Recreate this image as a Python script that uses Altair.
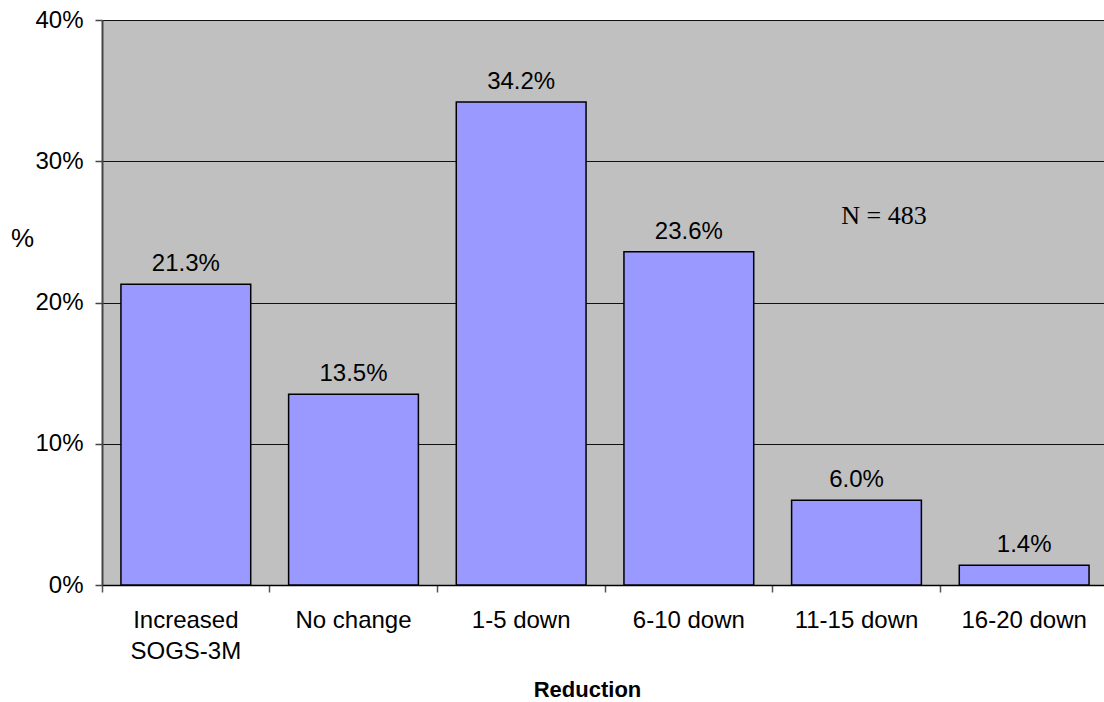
import altair as alt
import pandas as pd

categories = ["Increased SOGS-3M", "No change", "1-5 down", "6-10 down", "11-15 down", "16-20 down"]
values = [21.3, 13.5, 34.2, 23.6, 6.0, 1.4]
labels = ["21.3%", "13.5%", "34.2%", "23.6%", "6.0%", "1.4%"]
y_ticks = [0, 10, 20, 30, 40]

df = pd.DataFrame({"cat": categories, "val": values, "lab": labels})

FONT = "Liberation Sans"

x_enc = alt.X(
    "cat:N",
    sort=categories,
    scale=alt.Scale(paddingInner=0, paddingOuter=0, range=[0, 1006]),
    axis=alt.Axis(
        title="Reduction",
        titleFont=FONT, titleFontSize=22, titleFontWeight="bold", titleColor="black",
        titleX=485, titleY=104, titleAnchor="start", titleAlign="center", titleBaseline="middle",
        labelFont=FONT, labelFontSize=24, labelColor="black", labelAngle=0,
        labelBaseline="top", labelPadding=16, labelLineHeight=31,
        labelExpr="datum.label == 'Increased SOGS-3M' ? ['Increased', 'SOGS-3M'] : datum.label",
        bandPosition=0, tickSize=7, tickColor="#555555", tickWidth=1.5,
        domainColor="black", domainWidth=1.5, grid=False,
    ),
)

y_enc = alt.Y(
    "val:Q",
    scale=alt.Scale(domain=[0, 40], nice=False),
    axis=alt.Axis(
        title="%", titleAngle=0, titleFont=FONT, titleFontSize=26, titleFontWeight="normal",
        titleColor="black", titleX=-80, titleY=218, titleAlign="center", titleBaseline="middle",
        values=y_ticks, labelExpr="datum.value + '%'",
        labelFont=FONT, labelFontSize=24, labelColor="black", labelPadding=12,
        tickSize=7, tickColor="#444444", tickWidth=1.5,
        domainColor="#444444", domainWidth=2,
        grid=True, gridColor="#111111", gridWidth=1,
    ),
)

bars = alt.Chart(df).mark_bar(
    width=alt.RelativeBandSize(0.774), fill="#9999FF", stroke="black", strokeWidth=1.5
).encode(x=x_enc, y=y_enc)

text = alt.Chart(df).mark_text(
    font=FONT, fontSize=24, color="black", baseline="alphabetic", dy=-13
).encode(x=alt.X("cat:N", sort=categories), y="val:Q", text="lab:N")

note = alt.Chart(pd.DataFrame({"t": ["N = 483"]})).mark_text(
    font="Liberation Serif", fontSize=26, color="black", align="center", baseline="middle"
).encode(x=alt.value(782), y=alt.value(196), text="t:N")

chart = alt.layer(bars, text, note).properties(
    width=1002, height=565,
    autosize=alt.AutoSizeParams(type="none"),
    padding={"left": 102, "top": 20, "right": 0, "bottom": 117},
).configure_view(fill="#C0C0C0", stroke=None)

chart.save("out.html", embed_options={"renderer": "svg", "actions": False})
